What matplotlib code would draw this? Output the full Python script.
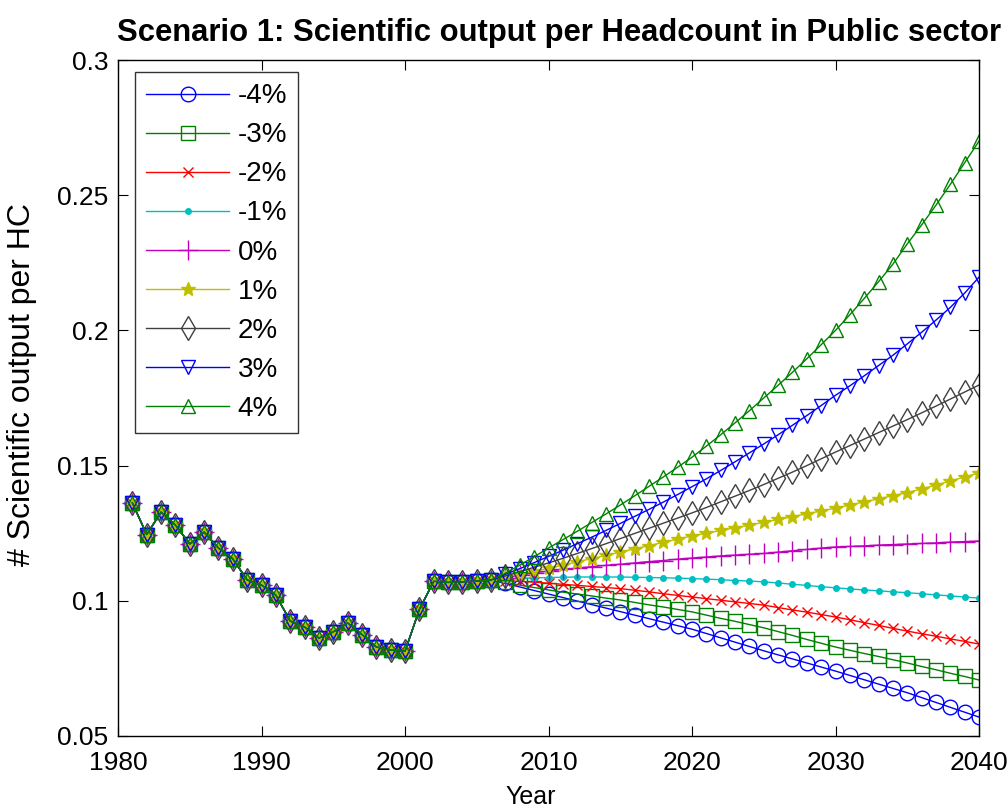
import matplotlib
matplotlib.use("Agg")
import matplotlib.pyplot as plt
import numpy as np

plt.rcParams['font.family'] = ['Liberation Sans', 'DejaVu Sans']

# Observed series (shared by every scenario), 1981-2006
hist_years = list(range(1981, 2007))
hist_values = [0.1362, 0.1245, 0.1328, 0.1280, 0.1210, 0.1254, 0.1195, 0.1155,
               0.1077, 0.1058, 0.1021, 0.0925, 0.0903, 0.0862, 0.0885, 0.0918,
               0.0875, 0.0829, 0.0818, 0.0813, 0.0968, 0.1072, 0.1068, 0.1070,
               0.1073, 0.1077]

# Projections 2007-2040 per annual growth scenario
proj_years = list(range(2007, 2041))

proj_m4 = [0.1064, 0.1051, 0.1038, 0.1025, 0.1012, 0.0999, 0.0986, 0.0973, 0.0960,
           0.0947, 0.0934, 0.0921, 0.0908, 0.0895, 0.0879, 0.0863, 0.0847, 0.0831,
           0.0815, 0.0800, 0.0785, 0.0770, 0.0755, 0.0740, 0.0724, 0.0708, 0.0692,
           0.0676, 0.0660, 0.0642, 0.0624, 0.0606, 0.0588, 0.0570]
proj_m3 = [0.1068, 0.1058, 0.1049, 0.1040, 0.1032, 0.1025, 0.1018, 0.1010, 0.1003,
           0.0994, 0.0985, 0.0977, 0.0968, 0.0959, 0.0947, 0.0935, 0.0924, 0.0912,
           0.0900, 0.0886, 0.0872, 0.0857, 0.0843, 0.0829, 0.0817, 0.0805, 0.0794,
           0.0782, 0.0770, 0.0757, 0.0745, 0.0732, 0.0720, 0.0707]
proj_m2 = [0.1075, 0.1072, 0.1069, 0.1065, 0.1061, 0.1057, 0.1053, 0.1049, 0.1045,
           0.1039, 0.1033, 0.1026, 0.1020, 0.1014, 0.1008, 0.1002, 0.0996, 0.0990,
           0.0984, 0.0975, 0.0966, 0.0958, 0.0949, 0.0940, 0.0930, 0.0919, 0.0909,
           0.0898, 0.0888, 0.0878, 0.0869, 0.0859, 0.0850, 0.0840]
proj_m1 = [0.1080, 0.1083, 0.1085, 0.1086, 0.1087, 0.1088, 0.1088, 0.1088, 0.1088,
           0.1087, 0.1086, 0.1085, 0.1084, 0.1082, 0.1080, 0.1078, 0.1075, 0.1073,
           0.1070, 0.1066, 0.1061, 0.1057, 0.1052, 0.1048, 0.1044, 0.1040, 0.1037,
           0.1033, 0.1030, 0.1026, 0.1022, 0.1018, 0.1014, 0.1010]
proj_0 = [0.1086, 0.1095, 0.1103, 0.1110, 0.1116, 0.1121, 0.1126, 0.1131, 0.1135,
          0.1140, 0.1145, 0.1149, 0.1154, 0.1158, 0.1162, 0.1166, 0.1169, 0.1172,
          0.1175, 0.1180, 0.1185, 0.1190, 0.1195, 0.1199, 0.1201, 0.1203, 0.1206,
          0.1208, 0.1210, 0.1212, 0.1214, 0.1217, 0.1219, 0.1221]
proj_p1 = [0.1088, 0.1099, 0.1109, 0.1120, 0.1132, 0.1144, 0.1156, 0.1168, 0.1180,
           0.1192, 0.1204, 0.1216, 0.1228, 0.1240, 0.1250, 0.1260, 0.1270, 0.1280,
           0.1290, 0.1301, 0.1311, 0.1322, 0.1332, 0.1343, 0.1354, 0.1366, 0.1377,
           0.1389, 0.1400, 0.1414, 0.1428, 0.1443, 0.1458, 0.1473]
proj_p2 = [0.1092, 0.1108, 0.1124, 0.1140, 0.1157, 0.1175, 0.1193, 0.1211, 0.1230,
           0.1249, 0.1268, 0.1287, 0.1306, 0.1325, 0.1345, 0.1366, 0.1387, 0.1408,
           0.1430, 0.1453, 0.1476, 0.1500, 0.1525, 0.1550, 0.1574, 0.1598, 0.1622,
           0.1646, 0.1670, 0.1695, 0.1720, 0.1746, 0.1772, 0.1798]
proj_p3 = [0.1098, 0.1119, 0.1141, 0.1164, 0.1187, 0.1211, 0.1235, 0.1260, 0.1286,
           0.1312, 0.1338, 0.1365, 0.1393, 0.1422, 0.1451, 0.1482, 0.1514, 0.1547,
           0.1580, 0.1614, 0.1649, 0.1685, 0.1722, 0.1760, 0.1795, 0.1832, 0.1870,
           0.1908, 0.1950, 0.1993, 0.2038, 0.2085, 0.2138, 0.2197]
proj_p4 = [0.1102, 0.1132, 0.1163, 0.1195, 0.1226, 0.1257, 0.1289, 0.1321, 0.1354,
           0.1388, 0.1423, 0.1458, 0.1494, 0.1531, 0.1572, 0.1614, 0.1658, 0.1703,
           0.1750, 0.1797, 0.1845, 0.1895, 0.1947, 0.2000, 0.2058, 0.2118, 0.2180,
           0.2245, 0.2320, 0.2390, 0.2463, 0.2540, 0.2620, 0.2700]

labels = ['-4%', '-3%', '-2%', '-1%', '0%', '1%', '2%', '3%', '4%']
projections = [proj_m4, proj_m3, proj_m2, proj_m1, proj_0,
               proj_p1, proj_p2, proj_p3, proj_p4]

colors = [(0, 0, 1), (0, 0.5, 0), (1, 0, 0), (0, 0.75, 0.75), (0.75, 0, 0.75),
          (0.75, 0.75, 0), (0.25, 0.25, 0.25), (0, 0, 1), (0, 0.5, 0)]
markers = ['o', 's', 'x', '.', '+', '*', 'd', 'v', '^']
msizes = [10.5, 10.5, 7, 8, 14, 10, 12, 10.5, 10.5]

fig = plt.figure(figsize=(10.07, 8.11), dpi=100)
ax = fig.add_axes([0.1172, 0.0925, 0.855, 0.8335])

years = hist_years + proj_years
for lab, proj, col, mk, ms in zip(labels, projections, colors, markers, msizes):
    ax.plot(years, hist_values + proj, color=col, marker=mk, markersize=ms,
            markerfacecolor='none' if mk not in ('.', 'x', '+', '*') else col,
            markeredgecolor=col, linewidth=1.0, markeredgewidth=1.0, label=lab)

ax.set_xlim(1980, 2040)
ax.set_ylim(0.05, 0.3)
ax.set_xticks([1980, 1990, 2000, 2010, 2020, 2030, 2040])
ax.set_yticks([0.05, 0.1, 0.15, 0.2, 0.25, 0.3])
ax.set_yticklabels(['0.05', '0.1', '0.15', '0.2', '0.25', '0.3'])
ax.tick_params(direction='in', top=True, right=True, length=7, labelsize=19)
ax.tick_params(axis='x', pad=11)
ax.tick_params(axis='y', pad=7)
for sp in ax.spines.values():
    sp.set_linewidth(1.0)

ax.set_xlabel('Year', fontsize=18, va='center')
ax.xaxis.set_label_coords(0.479, -0.091)
ax.set_ylabel('# Scientific output per HC', fontsize=23, va='center')
ax.yaxis.set_label_coords(-0.112, 0.52)
title = ax.set_title('Scenario 1: Scientific output per Headcount in Public sector',
                     fontsize=22.3, fontweight='bold', pad=14)
title.set_x(0.512)

leg = ax.legend(loc='upper left', fontsize=20, handlelength=3.0,
                frameon=True, fancybox=False, edgecolor='black',
                bbox_to_anchor=(0.0195, 0.982), borderaxespad=0.0,
                labelspacing=0.47, handletextpad=0.3, borderpad=0.4)
leg.get_frame().set_linewidth(1.0)

fig.savefig('out.png', dpi=100)
